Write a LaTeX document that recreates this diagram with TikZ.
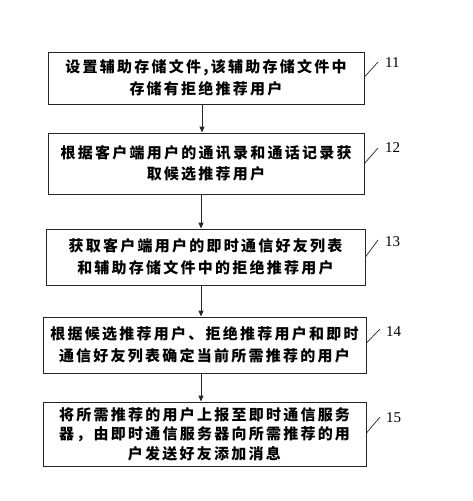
\documentclass[tikz,border=0pt]{standalone}
\usepackage{fontspec}
\usetikzlibrary{arrows.meta}
\newfontfamily\cjk[LetterSpace=15]{Noto Sans CJK SC}
\newfontfamily\numfont{Liberation Serif}
\tikzset{
  stepbox/.style={draw=black!85, line width=0.9pt, minimum width=#1, inner sep=0pt,
    align=center, font=\cjk\bfseries\fontsize{15}{21.5}\selectfont},
  flow/.style={draw=black!85, line width=0.9pt, -{Triangle[length=6pt,width=5pt]}},
  tick/.style={draw=black!85, line width=0.7pt},
  numlab/.style={font=\numfont\fontsize{15}{17}\selectfont, anchor=west, inner sep=0pt}
}
\begin{document}
\begin{tikzpicture}[x=1pt,y=-1pt]
\useasboundingbox (0,0) rectangle (472,501);
\node[stepbox=316pt, minimum height=52pt] (b1) at (206,78) {设置辅助存储文件,该辅助存储文件中\\存储有拒绝推荐用户};
\node[stepbox=316pt, minimum height=61pt] (b2) at (206,163.5) {根据客户端用户的通讯录和通话记录获\\取候选推荐用户};
\node[stepbox=319pt, minimum height=56pt] (b3) at (205.5,257) {获取客户端用户的即时通信好友列表\\和辅助存储文件中的拒绝推荐用户};
\node[stepbox=323pt, minimum height=56pt] (b4) at (204.5,345) {根据候选推荐用户、拒绝推荐用户和即时\\通信好友列表确定当前所需推荐的用户};
\node[stepbox=323pt, minimum height=64pt, font=\cjk\bfseries\fontsize{15}{19.5}\selectfont] (b5) at (204.5,434) {将所需推荐的用户上报至即时通信服务\\器，由即时通信服务器向所需推荐的用\\户发送好友添加消息};
\draw[flow] (b1.south -| 202,0) -- (b2.north -| 202,0);
\draw[flow] (b2.south -| 201,0) -- (b3.north -| 201,0);
\draw[flow] (b3.south -| 201,0) -- (b4.north -| 201,0);
\draw[flow] (b4.south -| 201,0) -- (b5.north -| 201,0);
\coordinate (t1) at (378,62);
\coordinate (t2) at (378,148);
\coordinate (t3) at (378,240);
\coordinate (t4) at (380,329);
\coordinate (t5) at (380,417);
\draw[tick] (b1.east) ++(0,-1) -- (t1);
\draw[tick] (b2.east) ++(0,0) -- (t2);
\draw[tick] (b3.east) ++(0,0) -- (t3);
\draw[tick] (b4.east) ++(0,-2) -- (t4);
\draw[tick] (b5.east) ++(0,-1) -- (t5);
\node[numlab] (n1) at (385,63) {11};
\node[numlab] (n2) at (385,148) {12};
\node[numlab] (n3) at (385,242) {13};
\node[numlab] (n4) at (386,332) {14};
\node[numlab] (n5) at (386,418) {15};
\end{tikzpicture}
\end{document}
